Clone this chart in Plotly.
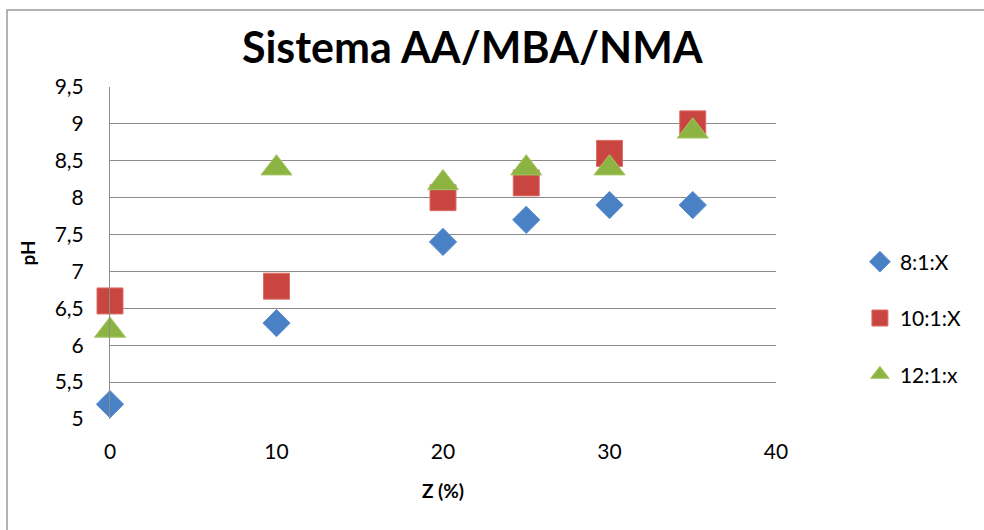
import plotly.graph_objects as go

# Z (%) values measured for each formulation
z_8_1 = [0, 10, 20, 25, 30, 35]
ph_8_1 = [5.2, 6.3, 7.4, 7.7, 7.9, 7.9]

z_10_1 = [0, 10, 20, 25, 30, 35]
ph_10_1 = [6.6, 6.8, 8.0, 8.2, 8.6, 9.0]

z_12_1 = [0, 10, 20, 25, 30, 35]
ph_12_1 = [6.2, 8.4, 8.2, 8.4, 8.4, 8.9]

series_names = ["8:1:X", "10:1:X", "12:1:x"]
y_ticks = [5, 5.5, 6, 6.5, 7, 7.5, 8, 8.5, 9, 9.5]
x_ticks = [0, 10, 20, 30, 40]

FONT = "Lato, Liberation Sans, Arial, sans-serif"
GRID = "#8c8c8c"

fig = go.Figure()
fig.add_trace(go.Scatter(
    x=z_8_1, y=ph_8_1, mode="markers", name=series_names[0], legendgroup="a",
    cliponaxis=False,
    marker=dict(symbol="diamond", size=21, color="#4a80c4",
                line=dict(color="#5b8fd0", width=1)),
))
fig.add_trace(go.Scatter(
    x=z_10_1, y=ph_10_1, mode="markers", name=series_names[1], legendgroup="b",
    cliponaxis=False,
    marker=dict(symbol="square", size=26, color="#c9453f",
                line=dict(color="#df6e69", width=1)),
))
fig.add_trace(go.Scatter(
    x=z_12_1, y=ph_12_1, mode="markers", name=series_names[2], legendgroup="c",
    cliponaxis=False,
    marker=dict(symbol="triangle-up", size=27, color="#8db443",
                line=dict(color="#a6c864", width=1)),
))

fig.update_layout(
    width=984, height=530,
    margin=dict(l=110, r=208, t=87, b=111),
    paper_bgcolor="white", plot_bgcolor="white",
    separators=",.",
    font=dict(family=FONT, size=21, color="#000000"),
    title=dict(text="<b>Sistema AA/MBA/NMA</b>", x=0.48, xanchor="center",
               y=0.909, yanchor="middle",
               font=dict(family=FONT, size=43, color="#000000")),
    xaxis=dict(range=[0, 40], tickvals=x_ticks, showgrid=False, zeroline=False,
               showline=False, ticks="outside", ticklen=14, tickcolor="rgba(0,0,0,0)",
               tickfont=dict(size=21),
               title=dict(text="<b>Z (%)</b>", font=dict(size=19), standoff=22)),
    yaxis=dict(range=[5, 9.5], tickvals=y_ticks, showgrid=True, gridcolor=GRID,
               gridwidth=1, zeroline=False, showline=True, linecolor=GRID, linewidth=1,
               ticks="outside", ticklen=21, tickcolor="rgba(0,0,0,0)",
               tickfont=dict(size=21),
               title=dict(text="<b>pH</b>", font=dict(size=19), standoff=14)),
    legend=dict(x=1.126, xanchor="left", y=0.304, yanchor="middle",
                font=dict(size=21), tracegroupgap=26, bgcolor="rgba(0,0,0,0)"),
    shapes=[dict(type="rect", xref="paper", yref="paper",
                 x0=(7 - 110) / 666, x1=2.0, y0=-1.0, y1=(419 - 10) / 332,
                 line=dict(color="#9a9a9a", width=1.5), fillcolor="rgba(0,0,0,0)",
                 layer="below")],
)

fig.write_html("out.html")
